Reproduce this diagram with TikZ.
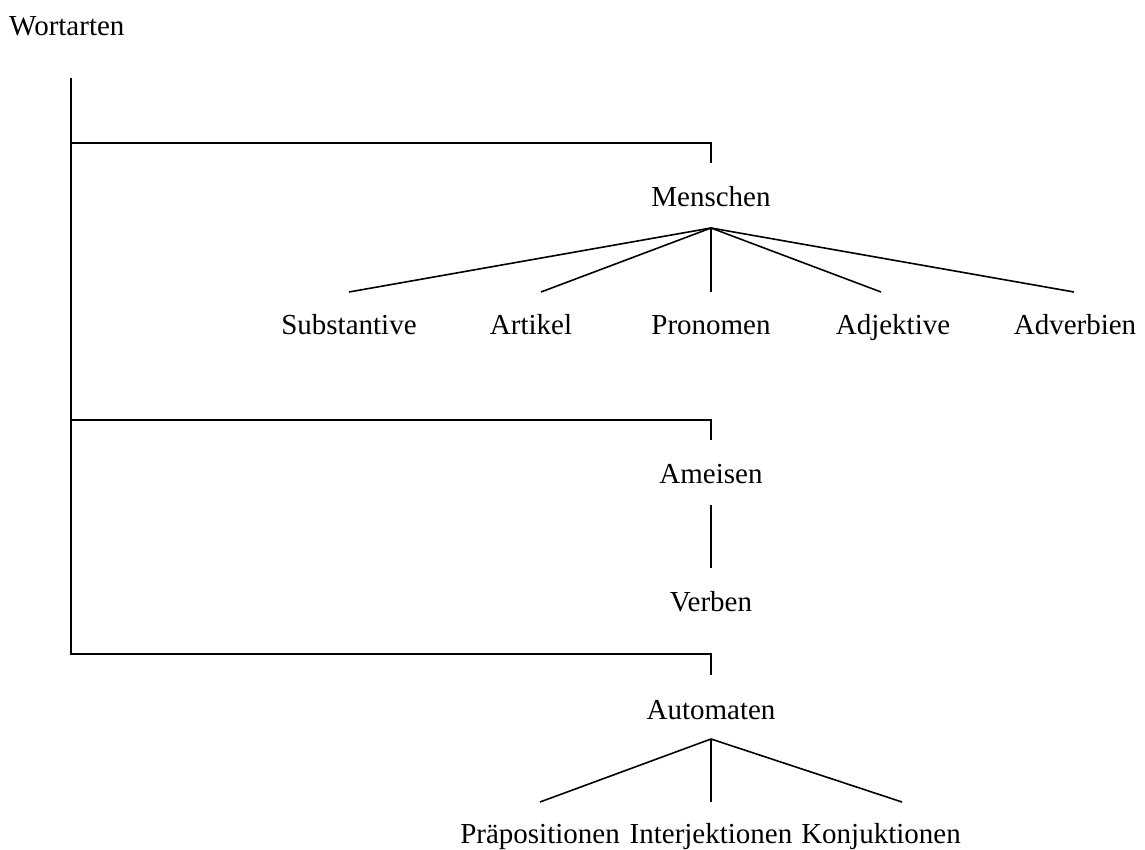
\documentclass[tikz,border=0pt]{standalone}
\usepackage{fontspec}
\setmainfont{Liberation Serif}
\begin{document}
\begin{tikzpicture}[x=1pt,y=-1pt,
  lbl/.style={anchor=base,inner sep=0pt,font=\fontsize{29}{34}\selectfont},
  edge/.style={line width=1.6pt}]
\useasboundingbox (0,0) rectangle (1145,850);
% labels
\node[lbl,anchor=base west] (W) at (9,36) {Wortarten};
\node[lbl] (M) at (711,207) {Menschen};
\node[lbl] (S) at (349,334) {Substantive};
\node[lbl] (Ar) at (531,334) {Artikel};
\node[lbl] (P) at (711,334) {Pronomen};
\node[lbl] (Ad) at (893,334) {Adjektive};
\node[lbl] (Av) at (1075,334) {Adverbien};
\node[lbl] (A) at (711,483) {Ameisen};
\node[lbl] (V) at (711,611) {Verben};
\node[lbl] (Au) at (711,719) {Automaten};
\node[lbl] (Pr) at (540,843) {Präpositionen};
\node[lbl] (I) at (711,843) {Interjektionen};
\node[lbl] (K) at (881,843) {Konjuktionen};
% anchor coordinates
\coordinate (top) at (71,78);
\coordinate (bot) at (71,654);
\coordinate (b1) at (71,143);
\coordinate (b2) at (71,420);
\coordinate (c1) at (711,143);
\coordinate (c2) at (711,420);
\coordinate (c3) at (711,654);
\coordinate (d1) at (711,163);
\coordinate (d2) at (711,440);
\coordinate (d3) at (711,675);
\coordinate (mA) at (711,228);
\coordinate (sE) at (349,292);
\coordinate (arE) at (541,292);
\coordinate (pE) at (711,292);
\coordinate (adE) at (881,292);
\coordinate (avE) at (1074,292);
\coordinate (aB) at (711,505);
\coordinate (vT) at (711,568);
\coordinate (auA) at (711,739);
\coordinate (prE) at (540,802);
\coordinate (iE) at (711,802);
\coordinate (kE) at (902,802);
% connectors
\draw[edge] (top) -- (bot) -| (d3);
\draw[edge] (b1) -| (d1);
\draw[edge] (b2) -| (d2);
\draw[edge] (mA) -- (sE);
\draw[edge] (mA) -- (arE);
\draw[edge] (mA) -- (pE);
\draw[edge] (mA) -- (adE);
\draw[edge] (mA) -- (avE);
\draw[edge] (aB) -- (vT);
\draw[edge] (auA) -- (prE);
\draw[edge] (auA) -- (iE);
\draw[edge] (auA) -- (kE);
\end{tikzpicture}
\end{document}
